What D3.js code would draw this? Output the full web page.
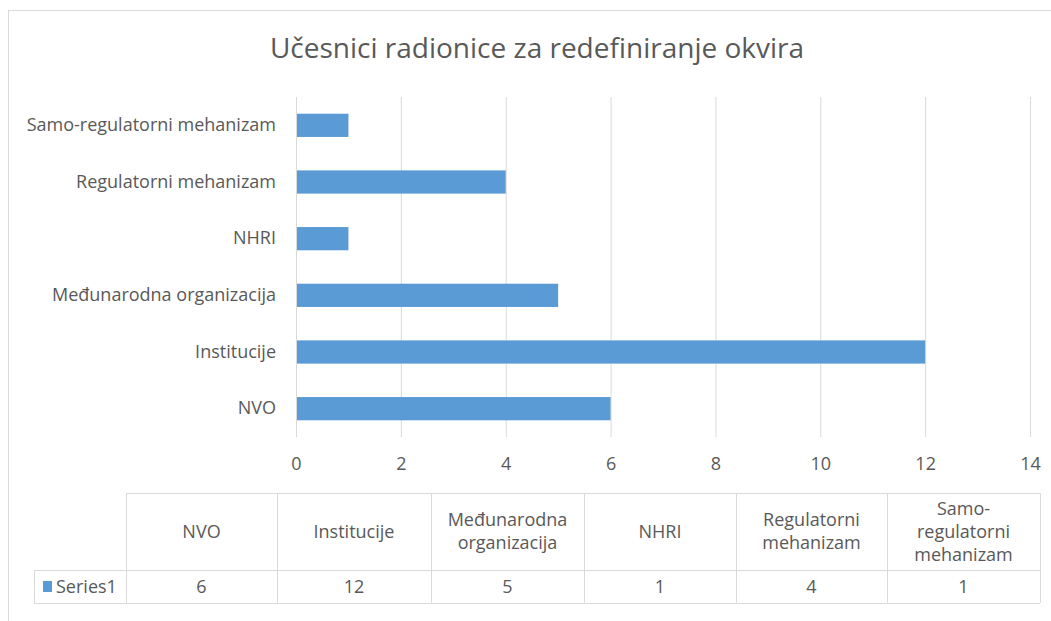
<!DOCTYPE html>
<html>
<head>
<meta charset="utf-8">
<style>
  body { margin: 0; background: #fff; }
  text { font-family: "Open Sans", "Liberation Sans", sans-serif; fill: #595959; }
</style>
</head>
<body>
<svg id="chart" width="1051" height="621"></svg>
<script src="https://cdn.jsdelivr.net/npm/d3@7"></script>
<script>
// data
var categories = ['NVO', 'Institucije', 'Međunarodna organizacija', 'NHRI', 'Regulatorni mehanizam', 'Samo-regulatorni mehanizam'];
var tableHeaders = [['NVO'], ['Institucije'], ['Međunarodna', 'organizacija'], ['NHRI'], ['Regulatorni', 'mehanizam'], ['Samo-', 'regulatorni', 'mehanizam']];
var values = [6, 12, 5, 1, 4, 1];
var seriesName = 'Series1';
var xTicks = [0, 2, 4, 6, 8, 10, 12, 14];

var svg = d3.select('#chart');
var blue = '#5b9bd5', grid = '#d9d9d9';

// outer chart border (right and bottom edges run off the picture)
svg.append('rect')
  .attr('x', 8.5).attr('y', 10.5)
  .attr('width', 1060).attr('height', 640)
  .attr('fill', 'none').attr('stroke', grid);

svg.append('text')
  .attr('x', 537).attr('y', 58)
  .attr('text-anchor', 'middle')
  .style('font-size', '28px')
  .text('Učesnici radionice za redefiniranje okvira');

var x = d3.scaleLinear().domain([0, 14]).range([296, 1030]);
var y = d3.scaleBand().domain(categories.slice().reverse()).range([97, 437]).paddingInner(0.59).paddingOuter(0.295);

// gridlines
svg.append('g').selectAll('line')
  .data(xTicks)
  .join('line')
  .attr('x1', function(d){ return x(d) + 0.5; })
  .attr('x2', function(d){ return x(d) + 0.5; })
  .attr('y1', 97).attr('y2', 437)
  .attr('stroke', grid);

// bars
svg.append('g').selectAll('rect')
  .data(categories)
  .join('rect')
  .attr('x', x(0) + 1)
  .attr('y', function(d){ return y(d); })
  .attr('width', function(d, i){ return x(values[i]) - x(0) - 1; })
  .attr('height', y.bandwidth())
  .attr('fill', blue);

// x axis labels
var xAxis = svg.append('g')
  .attr('transform', 'translate(0,447)')
  .call(d3.axisBottom(x).tickValues(xTicks).tickSize(0).tickPadding(10));
xAxis.select('.domain').remove();
xAxis.selectAll('text').style('font-size', '18px').attr('fill', '#595959').style('font-family', null);

// y axis labels
var yAxis = svg.append('g')
  .attr('transform', 'translate(276,0)')
  .call(d3.axisLeft(y).tickSize(0).tickPadding(0));
yAxis.select('.domain').remove();
yAxis.selectAll('text').style('font-size', '18px').attr('fill', '#595959').style('font-family', null);

// data table
var colEdges = [126, 277, 431, 584, 736, 887, 1040];
var tTop = 493, tMid = 570, tBot = 603, tLeft = 34;
var tg = svg.append('g').attr('stroke', grid).attr('shape-rendering', 'crispEdges');
tg.append('line').attr('x1', 126).attr('x2', 1040).attr('y1', tTop).attr('y2', tTop);
tg.append('line').attr('x1', tLeft).attr('x2', 1040).attr('y1', tMid).attr('y2', tMid);
tg.append('line').attr('x1', tLeft).attr('x2', 1040).attr('y1', tBot).attr('y2', tBot);
tg.append('line').attr('x1', tLeft).attr('x2', tLeft).attr('y1', tMid).attr('y2', tBot);
tg.selectAll('.v').data(colEdges).join('line')
  .attr('x1', function(d){ return d; }).attr('x2', function(d){ return d; })
  .attr('y1', tTop).attr('y2', tBot);

var lineH = 23;
tableHeaders.forEach(function(lines, i){
  var cx = (colEdges[i] + colEdges[i + 1]) / 2;
  var cy = (tTop + tMid) / 2 - (lines.length - 1) * lineH / 2;
  var t = svg.append('text')
    .attr('text-anchor', 'middle')
    .style('font-size', '18px');
  lines.forEach(function(l, j){
    t.append('tspan').attr('x', cx).attr('y', cy + j * lineH).attr('dy', '0.35em').text(l);
  });
  svg.append('text')
    .attr('x', cx).attr('y', (tMid + tBot) / 2).attr('dy', '0.35em')
    .attr('text-anchor', 'middle')
    .style('font-size', '18px')
    .text(values[i]);
});

svg.append('rect').attr('x', 43).attr('y', 581).attr('width', 9).attr('height', 11).attr('fill', blue);
svg.append('text')
  .attr('x', 56).attr('y', (tMid + tBot) / 2).attr('dy', '0.35em')
  .style('font-size', '18px')
  .text(seriesName);
</script>
</body>
</html>
